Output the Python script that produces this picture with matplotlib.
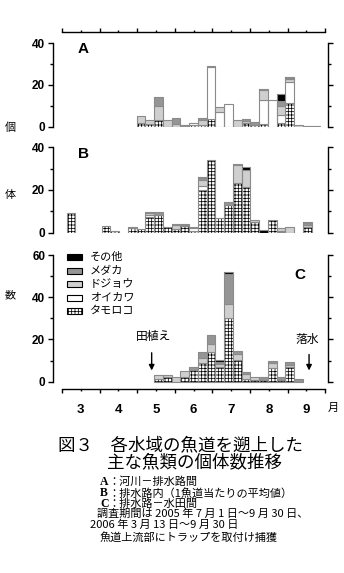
import numpy as np
import matplotlib
matplotlib.use("Agg")
import matplotlib.pyplot as plt
from matplotlib.patches import Rectangle

plt.rcParams['font.family'] = ['Noto Sans CJK JP', 'DejaVu Sans']
plt.rcParams['hatch.linewidth'] = 0.55
plt.rcParams['axes.linewidth'] = 1.0

W, H = 344, 573

species = ['タモロコ', 'オイカワ', 'ドジョウ', 'メダカ', 'その他']
month_labels = ['3', '4', '5', '6', '7', '8', '9']

# weekly counts, week 0 = early March ... week 28 = end of September
# A: 河川-排水路間
a_tamoroko = [0, 0, 0, 0, 0, 0, 0, 0, 2, 1.5, 3, 0, 0, 0, 1, 1, 3.5, 0, 0, 0, 2, 1, 1.5, 0, 1.6, 11.5, 0, 0.5, 0.5]
a_oikawa = [0]*14 + [0.6, 0, 25, 7, 11, 0, 0, 0, 11.5, 13, 4, 10, 0, 0, 0]
a_dojou = [0]*8 + [3, 1.5, 7, 3, 1.5, 0, 0, 2, 0.8, 2.5, 0, 3, 0.8, 0, 4.5, 0, 4.5, 1.2, 1, 0, 0]
a_medaka = [0]*10 + [4, 0, 2.5, 0.7, 0, 1, 0, 0, 0, 0, 0.7, 1.4, 0, 0, 2.4, 0.5, 0, 0, 0]
a_other = [0]*22 + [0.5, 0, 3.2, 0.8, 0, 0, 0]

# B: 排水路内
b_tamoroko = [9, 0, 0, 0, 3, 1, 0, 2, 1.5, 7.5, 8.5, 2.5, 1.5, 3, 1, 20, 34, 7, 13, 23.5, 21.5, 5, 0, 6, 0.5, 0, 0, 2.5, 0]
b_oikawa = [0]*9 + [1, 0, 0, 0, 0, 1, 2, 0, 0, 0, 0, 0, 0, 0, 0, 0.5, 0, 0, 0, 0]
b_dojou = [0]*9 + [0.5, 0, 0, 2, 0.5, 0.8, 2.5, 0, 0, 0, 8, 8, 1, 0, 0, 1, 2.8, 0, 1, 0]
b_medaka = [0]*7 + [0.5, 0, 0.5, 1, 0, 0.5, 0.5, 0, 1, 0, 0, 1.5, 0.5, 0, 0, 0, 0, 0, 0, 0, 1, 0]
b_other = [0]*15 + [0.5, 0, 0, 0, 0, 1.2, 0, 1.2, 0, 0, 0, 0, 0.6, 0]

# C: 排水路-水田間
c_tamoroko = [0]*10 + [1.3, 2, 0, 2, 5.5, 9, 14, 7, 30, 10.3, 1.1, 1, 0.8, 6.3, 0.8, 7.1, 0, 0, 0]
c_oikawa = [0]*29
c_dojou = [0]*10 + [1.9, 1.1, 2, 3, 0, 2, 4, 1.5, 6.8, 2.8, 2.5, 1, 0, 2.7, 0, 1, 0, 0, 0]
c_medaka = [0]*14 + [1.6, 3.2, 4, 1, 14.2, 1.6, 1.1, 0, 1.2, 1, 1.6, 1.1, 1.3, 0, 0]
c_other = [0]*17 + [0.8, 0.8] + [0]*10

face = ['white', 'white', '#cfcfcf', '#959595', 'black']
hatches = ['+++++', None, None, None, None]

week_x = 0.125 + 7/30.1*np.arange(29)
week_w = 7/30.1

fig = plt.figure(figsize=(W/100, H/100), dpi=100)


def fx(px):
    return px/W


def fy(py):
    return 1 - py/H


def make_axes(top, bottom):
    return fig.add_axes([fx(53), fy(bottom), (328-53)/W, (bottom-top)/H])


def draw_stack(ax, stack):
    bottom = np.zeros(29)
    for vals, fc, ht in zip(stack, face, hatches):
        vals = np.array(vals, dtype=float)
        m = vals > 0
        if m.any():
            ax.bar(week_x[m], vals[m], width=week_w, bottom=bottom[m], align='edge',
                   color=fc, edgecolor='black', hatch=ht, linewidth=0)
            ax.bar(week_x[m], vals[m], width=week_w, bottom=bottom[m], align='edge',
                   fill=False, edgecolor='#8a8a8a', linewidth=0.8)
        bottom += vals


def style(ax, ymax, ylo, yhi, top_axis=False, bottom_axis=False):
    ax.set_xlim(-0.239, 7.074)
    ax.set_ylim(ylo, yhi)
    ax.patch.set_visible(False)
    ax.spines['left'].set_bounds(0, ymax)
    ax.spines['right'].set_bounds(0, ymax)
    ax.spines['top'].set_visible(top_axis)
    ax.spines['bottom'].set_visible(bottom_axis)
    ax.spines['top'].set_bounds(0, 7)
    ax.spines['bottom'].set_bounds(0, 7)
    yt = np.arange(0, ymax + 1, 20)
    ax.set_yticks(yt)
    ax.set_yticklabels([str(int(v)) for v in yt], fontfamily='Liberation Sans',
                       fontweight='bold', fontsize=8.5)
    ax.set_yticks(np.arange(10, ymax, 20), minor=True)
    ax.tick_params(axis='y', which='both', direction='out', left=True, right=True,
                   labelright=False, width=1.0)
    ax.tick_params(axis='y', which='major', length=3.6, pad=2)
    ax.tick_params(axis='y', which='minor', length=2.4)
    if top_axis or bottom_axis:
        ax.set_xticks(np.arange(8))
        ax.set_xticks(np.arange(7) + 0.5, minor=True)
        ax.tick_params(axis='x', which='major', length=3.2, width=1.0)
        ax.tick_params(axis='x', which='minor', length=1.6, width=1.0)
        ax.set_xticklabels([])
        if top_axis:
            ax.xaxis.tick_top()
            ax.set_xticklabels([], minor=True)
        else:
            ax.set_xticklabels(month_labels, minor=True,
                               fontfamily=['Liberation Sans Narrow', 'Liberation Sans'],
                               fontweight='bold', fontsize=9.5)
            ax.tick_params(axis='x', which='minor', pad=9)
    else:
        ax.set_xticks([])


ax_a = make_axes(32, 126.7)
draw_stack(ax_a, [a_tamoroko, a_oikawa, a_dojou, a_medaka, a_other])
style(ax_a, 40, 0, 45.4, top_axis=True)
ax_a.text(0.57, 37.4, 'A', fontfamily='Liberation Sans', fontweight='bold',
          fontsize=11, ha='center', va='center')

ax_b = make_axes(147.3, 232.7)
draw_stack(ax_b, [b_tamoroko, b_oikawa, b_dojou, b_medaka, b_other])
style(ax_b, 40, 0, 40)
ax_b.text(0.56, 36.9, 'B', fontfamily='Liberation Sans', fontweight='bold',
          fontsize=11, ha='center', va='center')

ax_c = make_axes(255, 389)
draw_stack(ax_c, [c_tamoroko, c_oikawa, c_dojou, c_medaka, c_other])
style(ax_c, 60, -3.46, 60, bottom_axis=True)
ax_c.text(6.33, 50.6, 'C', fontfamily='Liberation Sans', fontweight='bold',
          fontsize=11, ha='center', va='center')

# events
ax_c.annotate('', xy=(2.385, 4.0), xytext=(2.385, 15),
              arrowprops=dict(arrowstyle='-|>', color='black', lw=1, mutation_scale=8))
ax_c.text(2.43, 21.3, '田植え', fontsize=8.5, ha='center', va='center')
ax_c.annotate('', xy=(6.57, 4.0), xytext=(6.57, 14.2),
              arrowprops=dict(arrowstyle='-|>', color='black', lw=1, mutation_scale=8))
ax_c.text(6.51, 20.2, '落水', fontsize=8.5, ha='center', va='center')

# legend (top to bottom: その他 ... タモロコ)
row_y = [257, 270.5, 284, 297.5, 311]
for i, k in enumerate(range(4, -1, -1)):
    y = row_y[i]
    r = Rectangle((fx(67), fy(y + 3)), 15/W, 6/H, transform=fig.transFigure,
                  facecolor=face[k], edgecolor='black', hatch=hatches[k], linewidth=0.8)
    fig.add_artist(r)
    fig.text(fx(90), fy(y), species[k], fontsize=8, va='center', ha='left')

# y label characters
fig.text(fx(10), fy(128), '個', fontsize=8, ha='center', va='center')
fig.text(fx(10), fy(195), '体', fontsize=8, ha='center', va='center')
fig.text(fx(10), fy(295), '数', fontsize=8, ha='center', va='center')
fig.text(fx(333), fy(408), '月', fontsize=8, ha='center', va='center')

# caption
fig.text(fx(58), fy(445), '図３　各水域の魚道を遡上した', fontsize=12.6, ha='left', va='center')
fig.text(fx(107), fy(462), '主な魚類の個体数推移', fontsize=12.6, ha='left', va='center')

notes = [('A', '：河川－排水路間', 482),
         ('B', '：排水路内（1魚道当たりの平均値）', 493),
         ('C', '：排水路－水田間', 504)]
for letter, txt, y in notes:
    fig.text(fx(100), fy(y), letter, fontfamily='Liberation Serif', fontweight='bold',
             fontsize=8.5, ha='left', va='center')
    fig.text(fx(108), fy(y), txt, fontsize=8, ha='left', va='center')
fig.text(fx(97), fy(514), '調査期間は 2005 年 7 月 1 日～9 月 30 日、', fontsize=8, ha='left', va='center')
fig.text(fx(90), fy(525), '2006 年 3 月 13 日～9 月 30 日', fontsize=8, ha='left', va='center')
fig.text(fx(100), fy(537), '魚道上流部にトラップを取付け捕獲', fontsize=8, ha='left', va='center')

fig.savefig('out.png', dpi=100)
